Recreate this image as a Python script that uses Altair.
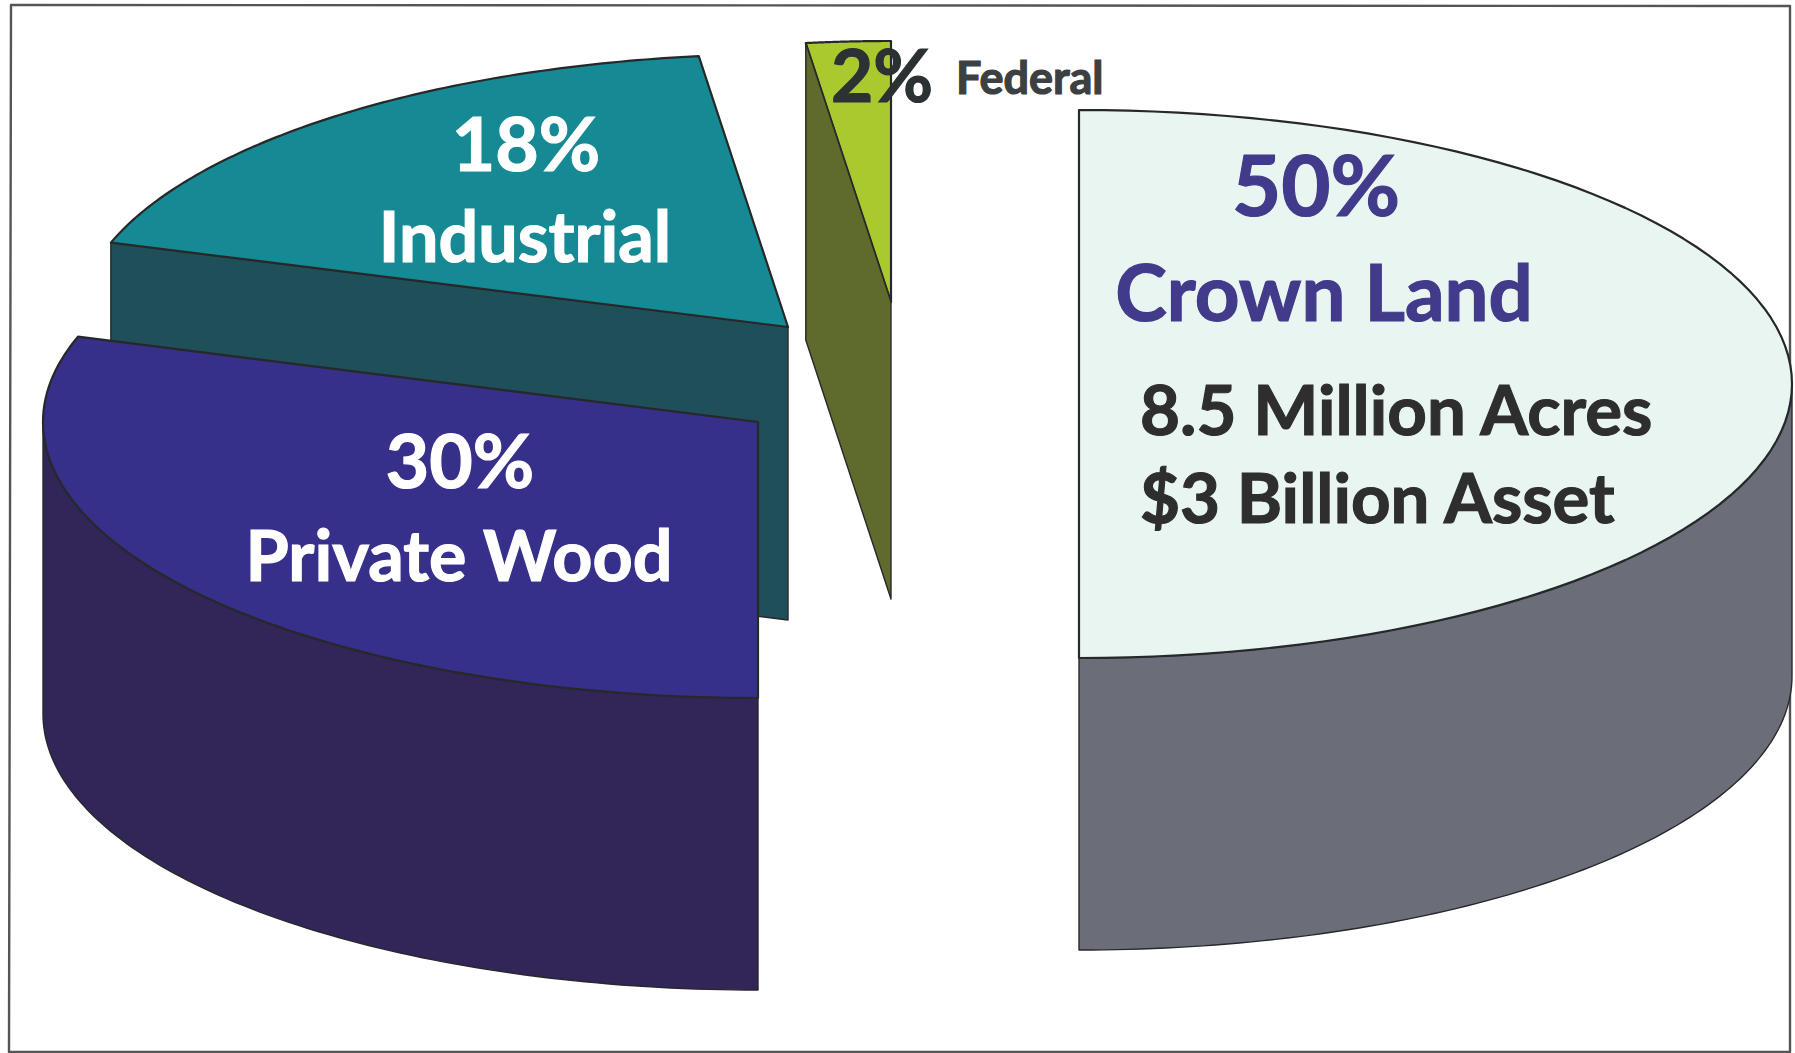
import math
import altair as alt
import pandas as pd

# Ownership shares in percent, clockwise from twelve o'clock
slice_names = ["Crown Land", "Private Wood", "Industrial", "Federal"]
slice_shares = [50, 30, 18, 2]

# Exploded tips of each wedge and the ellipse it is cut from
tip_x = [1079, 758, 788, 891]
tip_y = [384, 422, 327, 302]
radius_x = [713, 715, 712, 680]
radius_y = [274, 276, 273, 261]
wall_depth = [292, 292, 293, 297]

top_colors = ["#e9f5f0", "#36308a", "#168a94", "#a9c92f"]
wall_colors = ["#6b6e79", "#322659", "#1f4f58", "#5f6b2c"]
EDGE = "#26282a"

# Text labels: string, anchor x, baseline y, size, colour, alignment
label_text = ["18%", "Industrial", "30%", "Private Wood", "2%", "Federal", "50%",
              "Crown Land", "8.5 Million Acres", "$3 Billion Asset"]
label_x = [526, 525, 460, 459, 882, 956, 1316, 1324, 1140, 1140]
label_y = [171, 262, 488, 581, 102, 94, 216, 321, 435, 523]
label_size = [75, 70, 75, 70, 73, 45, 85, 78, 69, 69]
label_color = ["#ffffff", "#ffffff", "#ffffff", "#ffffff", "#2c3133", "#3c4042",
               "#423a8a", "#423a8a", "#2e2e2e", "#2e2e2e"]
label_align = ["center", "center", "center", "center", "center", "left",
               "center", "center", "left", "left"]

frame_x = [11, 1790, 1790, 9]
frame_y = [5, 6, 1052, 1052]

W, H = 1795, 1053
x_scale = alt.Scale(domain=[0, W], range=[0, W], nice=False, zero=False)
y_scale = alt.Scale(domain=[0, H], range=[0, H], nice=False, zero=False)


def polygon(points, fill, stroke=EDGE, width=1.4):
    """A closed, filled outline drawn through the position scales."""
    df = pd.DataFrame(points, columns=["x", "y"])
    df["i"] = range(len(df))
    return alt.Chart(df).mark_line(
        interpolate="linear-closed", fill=fill, stroke=stroke,
        strokeWidth=width, strokeJoin="round",
    ).encode(
        x=alt.X("x:Q", scale=x_scale, axis=None),
        y=alt.Y("y:Q", scale=y_scale, axis=None),
        order="i:Q",
    )


def rim(idx, a0, a1, drop=0, steps=90):
    """Points along a wedge's outer edge between two clock angles."""
    pts = []
    for k in range(steps + 1):
        t = math.radians(a0 + (a1 - a0) * k / steps)
        pts.append((tip_x[idx] + radius_x[idx] * math.sin(t),
                    tip_y[idx] - radius_y[idx] * math.cos(t) + drop))
    return pts


# Clock angles of each wedge, from the shares
angles = {}
start = 0.0
for i, share in enumerate(slice_shares):
    angles[i] = (start, start + share * 3.6)
    start += share * 3.6

layers = [polygon(list(zip(frame_x, frame_y)), "#ffffff", "#555555", 2.4)]


def outer_wall(idx, a0, a1):
    d = wall_depth[idx]
    return polygon(rim(idx, a0, a1) + rim(idx, a1, a0, d), wall_colors[idx])


def side_wall(idx, angle):
    d = wall_depth[idx]
    px, py = rim(idx, angle, angle, steps=1)[0]
    tx, ty = tip_x[idx], tip_y[idx]
    return polygon([(tx, ty), (px, py), (px, py + d), (tx, ty + d)], wall_colors[idx])


def top_face(idx):
    a0, a1 = angles[idx]
    return polygon([(tip_x[idx], tip_y[idx])] + rim(idx, a0, a1), top_colors[idx], width=2.2)


# Back to front: industrial, federal, crown land, private wood
layers += [side_wall(2, angles[2][0]), top_face(2)]
layers += [top_face(3), side_wall(3, angles[3][0])]
layers += [outer_wall(0, 90, 180), top_face(0)]
layers += [outer_wall(1, 180, 270), top_face(1)]

labels = pd.DataFrame({
    "label": label_text, "x": label_x, "y": label_y, "size": label_size,
    "color": label_color, "align": label_align,
})
for align in ["center", "left"]:
    layers.append(
        alt.Chart(labels[labels["align"] == align]).mark_text(
            font="Lato", fontWeight="bold", align=align, baseline="alphabetic",
            strokeWidth=1.2,
        ).encode(
            x=alt.X("x:Q", scale=x_scale, axis=None),
            y=alt.Y("y:Q", scale=y_scale, axis=None),
            text="label:N",
            size=alt.Size("size:Q", scale=None, legend=None),
            color=alt.Color("color:N", scale=None, legend=None),
            stroke=alt.Stroke("color:N", scale=None, legend=None),
        )
    )

chart = alt.layer(*layers).properties(
    width=W, height=H, padding=0, autosize=alt.AutoSizeParams(type="none"),
    background="#ffffff",
).configure_view(stroke=None)

chart.save("out.html", embed_options={"renderer": "svg", "actions": False})
